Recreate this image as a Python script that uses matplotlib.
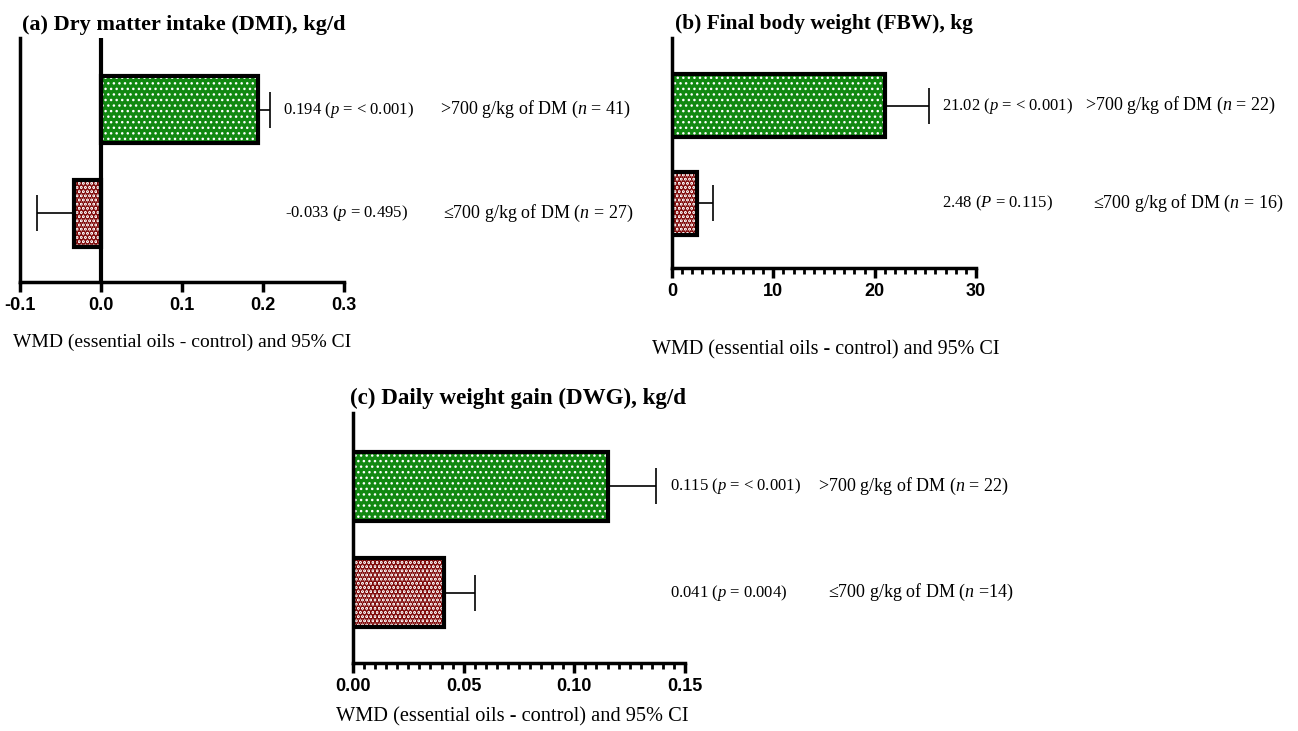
import matplotlib
matplotlib.use("Agg")
import matplotlib.pyplot as plt
from matplotlib.ticker import MultipleLocator, FormatStrFormatter
from matplotlib.transforms import blended_transform_factory

# data (rows: 0 = <=700 g/kg DM, 1 = >700 g/kg DM)
titles = ["(a) Dry matter intake (DMI), kg/d",
          "(b) Final body weight (FBW), kg",
          "(c) Daily weight gain (DWG), kg/d"]
wmd = [[-0.033, 0.194], [2.48, 21.02], [0.041, 0.115]]
ci_end = [[-0.079, 0.209], [4.05, 25.4], [0.055, 0.137]]
stat_labels = [["-0.033 ($p$ = 0.495)", "0.194 ($p$ = < 0.001)"],
               ["2.48 ($P$ = 0.115)", "21.02 ($p$ = < 0.001)"],
               ["0.041 ($p$ = 0.004)", "0.115 ($p$ = < 0.001)"]]
group_labels = [["\u2264700 g/kg of DM ($n$ = 27)", ">700 g/kg of DM ($n$ = 41)"],
                ["\u2264700 g/kg of DM ($n$ = 16)", ">700 g/kg of DM ($n$ = 22)"],
                ["\u2264700 g/kg of DM ($n$ =14)", ">700 g/kg of DM ($n$ = 22)"]]
xlims = [(-0.1, 0.3), (0, 30), (0, 0.15)]
xmajor = [0.1, 10, 0.05]
xminor = [None, 1, 0.005]
xfmt = ["%.1f", "%d", "%.2f"]
xlabel = "WMD (essential oils - control) and 95% CI"

plt.rcParams["axes.unicode_minus"] = False
plt.rcParams["mathtext.fontset"] = "custom"
plt.rcParams["mathtext.rm"] = "Liberation Serif"
plt.rcParams["mathtext.it"] = "Liberation Serif:italic"
serif = ["Liberation Serif", "DejaVu Serif"]

W, H = 1298, 731
fig = plt.figure(figsize=(W / 100, H / 100), dpi=100)

# axes boxes in pixels: left, right, top, bottom
boxes = [(20, 344, 38, 282), (672, 976, 38, 268), (353, 685, 413, 663)]
title_xy = [(22, 30), (675, 29), (350, 404)]
title_size = [16, 15.4, 16.6]
xlabel_xy = [(182, 342), (826, 350), (512, 717)]
xlabel_size = [14, 14.5, 14.7]
stat_x = [(0.818, 0.812), (0.888, 0.888), (0.955, 0.955)]
group_x = [(1.306, 1.296), (1.385, 1.359), (1.431, 1.401)]

# face colour, hatch colour, hatch, hatch line width
fills = [("white", "#7a0000", "....", 2.8), ("#118811", "white", "...", 1.0)]

for i in range(3):
    l, r, t, b = boxes[i]
    ax = fig.add_axes([l / W, 1 - b / H, (r - l) / W, (b - t) / H])
    tr = blended_transform_factory(ax.transAxes, ax.transData)
    for j in [0, 1]:
        fc, hc, hatch, hlw = fills[j]
        with plt.rc_context({"hatch.linewidth": hlw}):
            bars = ax.barh(j, wmd[i][j], height=0.65, color=fc, edgecolor=hc,
                           hatch=hatch, linewidth=0, zorder=2)
            for p in bars:
                if hasattr(p, "set_hatch_linewidth"):
                    p.set_hatch_linewidth(hlw)
        ax.barh(j, wmd[i][j], height=0.65, fill=False, edgecolor="black",
                linewidth=3, zorder=3)
        err = abs(ci_end[i][j] - wmd[i][j])
        xe = [[0], [err]] if wmd[i][j] >= 0 else [[err], [0]]
        ax.errorbar(wmd[i][j], j, xerr=xe, fmt="none", ecolor="black",
                    elinewidth=1.2, capsize=13, capthick=1.2, zorder=1)
        ax.text(stat_x[i][j], j, stat_labels[i][j], transform=tr,
                va="center", ha="left", fontsize=12, family=serif, clip_on=False)
        ax.text(group_x[i][j], j, group_labels[i][j], transform=tr,
                va="center", ha="left", fontsize=13, family=serif, clip_on=False)
    if xlims[i][0] < 0:
        ax.axvline(0, color="black", linewidth=3, zorder=4)
    ax.set_xlim(*xlims[i])
    ax.set_ylim(-0.66, 1.69)
    ax.xaxis.set_major_locator(MultipleLocator(xmajor[i]))
    if xminor[i]:
        ax.xaxis.set_minor_locator(MultipleLocator(xminor[i]))
    ax.xaxis.set_major_formatter(FormatStrFormatter(xfmt[i]))
    ax.set_yticks([])
    for s in ["top", "right"]:
        ax.spines[s].set_visible(False)
    for s in ["left", "bottom"]:
        ax.spines[s].set_linewidth(2.5)
    ax.tick_params(axis="x", which="major", direction="out", length=7,
                   width=2.5, labelsize=13, pad=4)
    ax.tick_params(axis="x", which="minor", direction="out", length=4, width=2)
    for lab in ax.get_xticklabels():
        lab.set_fontweight("bold")
        lab.set_family(["Liberation Sans", "DejaVu Sans"])
    fig.text(title_xy[i][0] / W, 1 - title_xy[i][1] / H, titles[i],
             ha="left", va="baseline", fontsize=title_size[i],
             fontweight="bold", family=serif)
    fig.text(xlabel_xy[i][0] / W, 1 - xlabel_xy[i][1] / H, xlabel,
             ha="center", va="center", fontsize=xlabel_size[i], family=serif)

fig.savefig("out.png", dpi=100)
